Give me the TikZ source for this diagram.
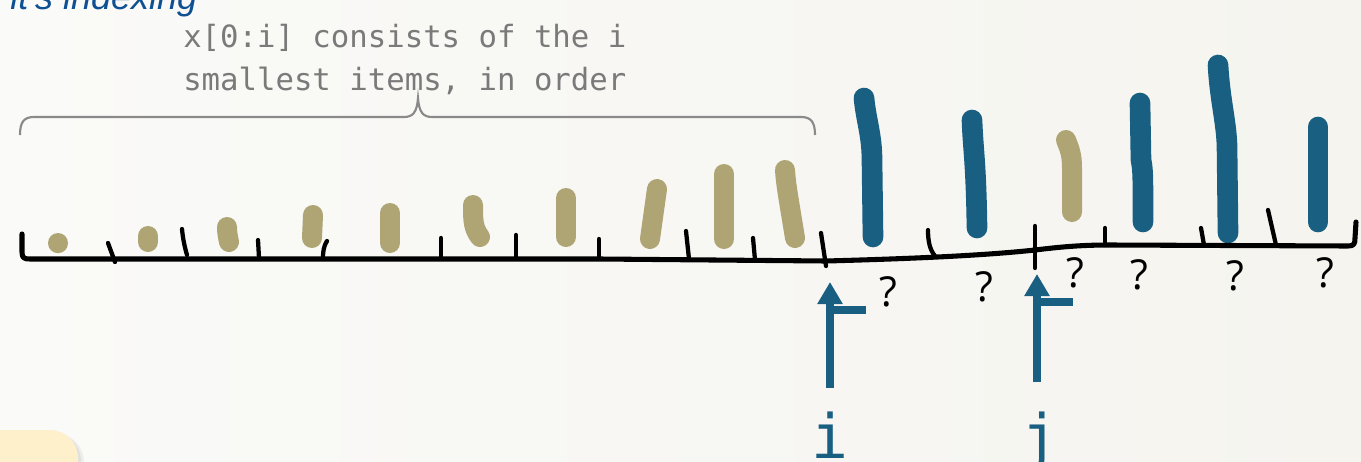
\documentclass[tikz,border=0pt]{standalone}
\usepackage{fontspec}
\setmainfont{Open Sans}
\setmonofont{DejaVu Sans Mono}
\newfontfamily\handfont{Liberation Sans}
\usetikzlibrary{arrows.meta}

\definecolor{paperL}{RGB}{250,250,248}
\definecolor{paperR}{RGB}{245,244,239}
\definecolor{tanc}{RGB}{175,164,116}
\definecolor{bluec}{RGB}{24,95,130}
\definecolor{notegray}{RGB}{122,122,122}
\definecolor{bracegray}{RGB}{138,138,138}
\definecolor{inkblue}{RGB}{14,80,145}
\definecolor{stickyc}{RGB}{254,240,203}

\tikzset{
  axisline/.style={line width=3.8pt, black, line cap=round, line join=round},
  tickmark/.style={line width=3.2pt, black, line cap=round},
  tanbar/.style={line width=15pt, tanc, line cap=round, line join=round},
  bluebar/.style={line width=15.5pt, bluec, line cap=round, line join=round},
  bracket/.style={line width=1.6pt, bracegray},
  pointer/.style={line width=6.4pt, bluec, -{Triangle[length=16.5pt,width=18pt]}},
  flagbar/.style={line width=5.3pt, bluec},
  qmark/.style={inner sep=0pt, font=\fontsize{31}{31}\selectfont},
  idxlabel/.style={inner sep=0pt, anchor=base, text=bluec, font=\ttfamily\fontsize{46}{46}\selectfont},
  notetext/.style={inner sep=0pt, anchor=base west, text=notegray, font=\ttfamily\fontsize{23}{23}\selectfont},
}

\begin{document}
\begin{tikzpicture}[x=0.75pt, y=-0.75pt]
\useasboundingbox (0,0) rectangle (1361,461);
\shade[left color=paperL, right color=paperR] (0,0) rectangle (1361,461);

% handwritten heading, mostly above the page edge
\node[inner sep=0pt, anchor=base west, text=inkblue,
      font=\handfont\itshape\fontsize{27}{27}\selectfont] (heading) at (10,9) {it's indexing};

% sticky note in the lower left corner
\fill[black, opacity=0.05, rounded corners=22pt] (-40,433) rectangle (84,520);
\fill[black, opacity=0.05, rounded corners=22pt] (-40,432) rectangle (81,520);
\fill[stickyc, rounded corners=21pt] (-40,430) rectangle (78,520);

% annotation and brace over the sorted prefix
\node[notetext] (note1) at (183,47) {x[0:i] consists of the i};
\node[notetext] (note2) at (183,90) {smallest items, in order};
\draw[bracket] (20,135) .. controls (20,122) and (24,117) .. (34,117) -- (404,117)
  .. controls (413,117) and (417,112) .. (418,98)
  .. controls (419,112) and (423,117) .. (432,117) -- (801,117)
  .. controls (811,117) and (815,122) .. (815,135);

% sorted items (tan)
\draw[tanbar] (58,243) -- (58,243.2);
\draw[tanbar] (148,236) -- (148,242);
\draw[tanbar] (227,227) .. controls (227,233) and (228,237) .. (229,242);
\draw[tanbar] (313,215) -- (312,238);
\draw[tanbar] (390,213) -- (390,243);
\draw[tanbar] (473,205) .. controls (473,220) and (473,228) .. (480,237);
\draw[tanbar] (566,198) -- (566,237);
\draw[tanbar] (657,189) -- (650,239);
\draw[tanbar] (724,174) -- (724,239);
\draw[tanbar] (785,170) .. controls (786,185) and (788,195) .. (795,238);

% unsorted items
\draw[bluebar] (864,98) .. controls (866,120) and (872,135) .. (872,160) -- (873,237);
\draw[bluebar] (972,120) .. controls (973,150) and (976,160) .. (977,228);
\draw[tanbar] (1066,140) .. controls (1070,150) and (1072,155) .. (1072,168) -- (1072,212);
\draw[bluebar] (1140,103) -- (1141,160) .. controls (1143,170) and (1143,175) .. (1143,222);
\draw[bluebar] (1218,65) .. controls (1220,100) and (1226,120) .. (1227,145) -- (1228,233);
\draw[bluebar] (1318,127) -- (1318,222);

% hand-drawn number line
\draw[axisline] (22,234) -- (22,252) .. controls (22,258) and (24,259) .. (30,259)
  -- (600,259) -- (826,261)
  .. controls (900,259) and (980,256) .. (1035,250)
  .. controls (1060,247) and (1080,245) .. (1110,245)
  -- (1348,246) .. controls (1354,246) and (1355,244) .. (1355,238) -- (1356,222);

% cell boundaries
\draw[tickmark] (108,243) -- (115,262);
\draw[tickmark] (182,229) .. controls (183,240) and (185,248) .. (187,255);
\draw[tickmark] (258,240) -- (259,258);
\draw[tickmark] (327,241) .. controls (324,246) and (323,250) .. (323,258);
\draw[tickmark] (441,238) -- (441,257);
\draw[tickmark] (516,235) -- (516,257);
\draw[tickmark] (599,239) -- (599,258);
\draw[tickmark] (686,231) -- (689,259);
\draw[tickmark] (753,238) -- (755,260);
\draw[tickmark] (821,233) -- (826,266);
\draw[tickmark] (928,230) .. controls (928,242) and (930,250) .. (935,256);
\draw[tickmark] (1035,226) -- (1035,268);
\draw[tickmark] (1105,228) -- (1105,245);
\draw[tickmark] (1201,228) -- (1204,245);
\draw[tickmark] (1268,210) -- (1276,245);

% unknown values
\node[qmark] (q1) at (888,292) {?};
\node[qmark] (q2) at (984,287) {?};
\node[qmark] (q3) at (1075,273) {?};
\node[qmark] (q4) at (1139,275) {?};
\node[qmark] (q5) at (1235,276) {?};
\node[qmark] (q6) at (1325,273) {?};

% index pointers
\node[idxlabel] (li) at (830,458) {i};
\node[idxlabel] (lj) at (1040,458) {j};
\coordinate (ibase) at (830,388);
\coordinate (itip) at (830,282);
\coordinate (iflag) at (830,310);
\coordinate (jbase) at (1037,382);
\coordinate (jtip) at (1037,274);
\coordinate (jflag) at (1037,302);
\draw[pointer] (ibase) -- (itip);
\draw[flagbar] (iflag) -- +(36,0);
\draw[pointer] (jbase) -- (jtip);
\draw[flagbar] (jflag) -- +(36,0);
\end{tikzpicture}
\end{document}
